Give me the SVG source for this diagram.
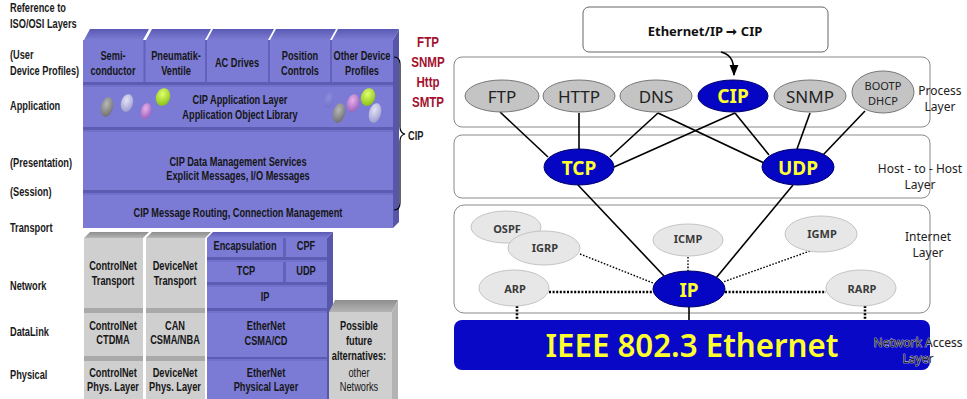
<svg xmlns="http://www.w3.org/2000/svg" width="967" height="399" viewBox="0 0 967 399">
<defs>
<style>
.osi{font-family:"Liberation Sans",Arial,sans-serif;font-weight:bold;font-size:12px;fill:#1a1a1a}
.n{font-family:"Liberation Sans",Arial,sans-serif;font-weight:bold;font-size:12px;fill:#161616;text-anchor:middle}
.nr{font-weight:normal}
.proto{font-family:"Liberation Sans",Arial,sans-serif;font-weight:bold;font-size:15px;fill:#a3112f;text-anchor:middle}
.pf{fill:#7b7bd5}
.pband{fill:#5c5cb2}
.plite{fill:#7171cc}
.pside{fill:#5757aa}
.gf{fill:#cfcfcf}
.gband{fill:#a9a9a9}
.layer{fill:#fff;stroke:#8a8a8a;stroke-width:1}
.pe{fill:#c4c4c4;stroke:#777;stroke-width:1}
.be{fill:#0505c4;stroke:#00006a;stroke-width:1}
.ge{fill:#e7e7e7;stroke:#c4c4c4;stroke-width:1}
.t{font-family:"Noto Sans","Open Sans",sans-serif;text-anchor:middle;fill:#222}
.pt{font-size:17px}
.yt{font-size:19px;font-weight:bold;fill:#ffff30}
.st{font-size:11px;font-weight:bold;fill:#3a3a3a}
.ll{font-size:12px;fill:#222}
.solid{stroke:#000;stroke-width:1.6;fill:none}
.dot{stroke:#000;stroke-width:1.4;stroke-dasharray:1.6 1.6;fill:none}
.dotb{stroke:#000;stroke-width:2.6;stroke-dasharray:2 1.6;fill:none}
</style>
<linearGradient id="topFace" x1="0" y1="0" x2="0" y2="1">
<stop offset="0" stop-color="#5a5ab4"/>
<stop offset="1" stop-color="#7c7cd4"/>
</linearGradient>
<linearGradient id="grayTop" x1="0" y1="0" x2="0" y2="1">
<stop offset="0" stop-color="#8e8e8e"/>
<stop offset="1" stop-color="#b4b4b4"/>
</linearGradient>
<radialGradient id="bGray" cx="0.4" cy="0.35" r="0.7"><stop offset="0" stop-color="#b8b8b8"/><stop offset="1" stop-color="#6e6e6e"/></radialGradient>
<radialGradient id="bLav" cx="0.4" cy="0.35" r="0.7"><stop offset="0" stop-color="#e2e2f6"/><stop offset="1" stop-color="#9c9cd0"/></radialGradient>
<radialGradient id="bPink" cx="0.4" cy="0.35" r="0.7"><stop offset="0" stop-color="#e8b0ec"/><stop offset="1" stop-color="#a060b8"/></radialGradient>
<radialGradient id="bGreen" cx="0.4" cy="0.35" r="0.7"><stop offset="0" stop-color="#e0ff70"/><stop offset="1" stop-color="#88c010"/></radialGradient>
<radialGradient id="bBlue" cx="0.4" cy="0.35" r="0.7"><stop offset="0" stop-color="#9a9ae0"/><stop offset="1" stop-color="#6c6cc8"/></radialGradient>
<marker id="ah" viewBox="0 0 10 10" refX="9" refY="5" markerWidth="7" markerHeight="7" orient="auto">
<path d="M0,1 L10,5 L0,9 z" fill="#000"/>
</marker>
</defs>

<rect width="967" height="399" fill="#fff"/>

<!-- OSI reference labels (condensed by a horizontal scale) -->
<g id="osi-labels">
<text class="osi" transform="translate(10 12) scale(.77 1)">Reference to</text>
<text class="osi" transform="translate(10 28) scale(.77 1)">ISO/OSI Layers</text>
<text class="osi" transform="translate(10 59) scale(.77 1)">(User</text>
<text class="osi" transform="translate(10 75) scale(.77 1)">Device Profiles)</text>
<text class="osi" transform="translate(10 110) scale(.77 1)">Application</text>
<text class="osi" transform="translate(10 167) scale(.77 1)">(Presentation)</text>
<text class="osi" transform="translate(10 196) scale(.77 1)">(Session)</text>
<text class="osi" transform="translate(10 232) scale(.77 1)">Transport</text>
<text class="osi" transform="translate(10 290) scale(.77 1)">Network</text>
<text class="osi" transform="translate(10 336) scale(.77 1)">DataLink</text>
<text class="osi" transform="translate(10 379) scale(.77 1)">Physical</text>
</g>

<!-- CIP upper stack -->
<g id="device-profiles">
<polygon fill="url(#topFace)" points="84,40 90,29 149,29 143,40"/>
<polygon fill="url(#topFace)" points="146,40 152,29 211,29 205,40"/>
<polygon fill="url(#topFace)" points="207,40 213,29 274,29 268,40"/>
<polygon fill="url(#topFace)" points="270,40 276,29 336,29 330,40"/>
<polygon fill="url(#topFace)" points="332,40 338,29 399,29 393,40"/>
<polygon class="pside" points="393,40 399,29 399,222 393,228"/>
<rect class="pf" x="83" y="40" width="310" height="42"/>
<g stroke="#6262bd" stroke-width="2">
<line x1="144.5" y1="40" x2="144.5" y2="82"/>
<line x1="206" y1="40" x2="206" y2="82"/>
<line x1="269" y1="40" x2="269" y2="82"/>
<line x1="331" y1="40" x2="331" y2="82"/>
</g>
<text class="n" transform="translate(113 60) scale(.77 1)">Semi-</text>
<text class="n" transform="translate(113 75) scale(.77 1)">conductor</text>
<text class="n" transform="translate(176 60) scale(.77 1)">Pneumatik-</text>
<text class="n" transform="translate(176 75) scale(.77 1)">Ventile</text>
<text class="n" transform="translate(237 67) scale(.77 1)">AC Drives</text>
<text class="n" transform="translate(300 60) scale(.77 1)">Position</text>
<text class="n" transform="translate(300 75) scale(.77 1)">Controls</text>
<text class="n" transform="translate(362 60) scale(.77 1)">Other Device</text>
<text class="n" transform="translate(362 75) scale(.77 1)">Profiles</text>
</g>

<g id="app-layer">
<rect class="pband" x="83" y="82" width="310" height="3"/>
<rect class="plite" x="83" y="85" width="310" height="2"/>
<rect class="pf" x="83" y="87" width="310" height="40"/>
<ellipse cx="107" cy="107" rx="6" ry="10" fill="url(#bGray)" transform="rotate(15 107 107)"/>
<ellipse cx="127" cy="103" rx="6" ry="9" fill="url(#bLav)" transform="rotate(15 127 103)"/>
<ellipse cx="146" cy="111" rx="5" ry="8" fill="url(#bPink)" transform="rotate(15 146 111)"/>
<ellipse cx="163" cy="97" rx="7" ry="9" fill="url(#bGreen)" transform="rotate(20 163 97)"/>
<ellipse cx="329" cy="100" rx="5" ry="8" fill="url(#bBlue)" opacity="0.6" transform="rotate(15 329 100)"/>
<ellipse cx="353" cy="103" rx="6" ry="9" fill="url(#bPink)" transform="rotate(15 353 103)"/>
<ellipse cx="339" cy="113" rx="6" ry="10" fill="url(#bGray)" transform="rotate(15 339 113)"/>
<ellipse cx="368" cy="97" rx="7" ry="9" fill="url(#bGreen)" transform="rotate(20 368 97)"/>
<ellipse cx="375" cy="113" rx="6" ry="10" fill="url(#bLav)" transform="rotate(15 375 113)"/>
<text class="n" transform="translate(240 104) scale(.77 1)">CIP Application Layer</text>
<text class="n" transform="translate(240 119) scale(.77 1)">Application Object Library</text>
</g>

<g id="data-management">
<rect class="pband" x="83" y="127" width="310" height="3"/>
<rect class="plite" x="83" y="130" width="310" height="2"/>
<rect class="pf" x="83" y="132" width="310" height="58"/>
<text class="n" transform="translate(238 166) scale(.77 1)">CIP Data Management Services</text>
<text class="n" transform="translate(238 180) scale(.77 1)">Explicit Messages, I/O Messages</text>
</g>

<g id="message-routing">
<rect class="pband" x="83" y="190" width="310" height="3"/>
<rect class="plite" x="83" y="193" width="310" height="2"/>
<rect class="pf" x="83" y="195" width="310" height="33"/>
<text class="n" transform="translate(238 217) scale(.77 1)">CIP Message Routing, Connection Management</text>
</g>

<!-- network-specific columns -->
<g id="controlnet-column">
<polygon fill="url(#grayTop)" points="84,238 90,232 149,232 143,238"/>
<rect class="gf" x="84" y="238" width="59" height="70"/>
<rect class="gband" x="84" y="308" width="59" height="5"/>
<rect class="gf" x="84" y="313" width="59" height="43"/>
<rect class="gband" x="84" y="356" width="59" height="5"/>
<rect class="gf" x="84" y="361" width="59" height="38"/>
<text class="n" transform="translate(113 270) scale(.77 1)">ControlNet</text>
<text class="n" transform="translate(113 285) scale(.77 1)">Transport</text>
<text class="n" transform="translate(113 330) scale(.77 1)">ControlNet</text>
<text class="n" transform="translate(113 344) scale(.77 1)">CTDMA</text>
<text class="n" transform="translate(113 377) scale(.77 1)">ControlNet</text>
<text class="n" transform="translate(113 391) scale(.77 1)">Phys. Layer</text>
</g>

<g id="devicenet-column">
<polygon fill="url(#grayTop)" points="146,238 152,232 211,232 205,238"/>
<rect class="gf" x="146" y="238" width="59" height="70"/>
<rect class="gband" x="146" y="308" width="59" height="5"/>
<rect class="gf" x="146" y="313" width="59" height="43"/>
<rect class="gband" x="146" y="356" width="59" height="5"/>
<rect class="gf" x="146" y="361" width="59" height="38"/>
<text class="n" transform="translate(175 270) scale(.77 1)">DeviceNet</text>
<text class="n" transform="translate(175 285) scale(.77 1)">Transport</text>
<text class="n" transform="translate(175 330) scale(.77 1)">CAN</text>
<text class="n" transform="translate(175 344) scale(.77 1)">CSMA/NBA</text>
<text class="n" transform="translate(175 377) scale(.77 1)">DeviceNet</text>
<text class="n" transform="translate(175 391) scale(.77 1)">Phys. Layer</text>
</g>

<g id="ethernet-column">
<polygon fill="url(#topFace)" points="207,238 213,232 333,232 327,238"/>
<polygon class="pside" points="327,238 333,232 333,399 327,399"/>
<rect class="pf" x="207" y="238" width="76" height="19"/>
<rect class="pf" x="286" y="238" width="41" height="19"/>
<rect fill="#6262bd" x="283" y="238" width="3" height="44"/>
<rect class="pband" x="207" y="257" width="120" height="3"/>
<rect class="plite" x="207" y="260" width="120" height="2"/>
<rect class="pf" x="207" y="262" width="76" height="20"/>
<rect class="pf" x="286" y="262" width="41" height="20"/>
<rect class="pband" x="207" y="282" width="120" height="3"/>
<rect class="plite" x="207" y="285" width="120" height="2"/>
<rect class="pf" x="207" y="287" width="120" height="21"/>
<rect class="pband" x="207" y="308" width="120" height="3"/>
<rect class="plite" x="207" y="311" width="120" height="2"/>
<rect class="pf" x="207" y="313" width="120" height="44"/>
<rect class="pband" x="207" y="357" width="120" height="2"/>
<rect class="plite" x="207" y="359" width="120" height="2"/>
<rect class="pf" x="207" y="361" width="120" height="38"/>
<text class="n" transform="translate(245 250) scale(.77 1)">Encapsulation</text>
<text class="n" transform="translate(306 250) scale(.77 1)">CPF</text>
<text class="n" transform="translate(246 275) scale(.77 1)">TCP</text>
<text class="n" transform="translate(306 275) scale(.77 1)">UDP</text>
<text class="n" transform="translate(265 301) scale(.77 1)">IP</text>
<text class="n" transform="translate(266 330) scale(.77 1)">EtherNet</text>
<text class="n" transform="translate(266 345) scale(.77 1)">CSMA/CD</text>
<text class="n" transform="translate(266 377) scale(.77 1)">EtherNet</text>
<text class="n" transform="translate(266 391) scale(.77 1)">Physical Layer</text>
</g>

<g id="future-networks">
<polygon fill="url(#grayTop)" points="329,312 335,300 398,300 392,312"/>
<polygon fill="#b3b3b3" points="392,312 398,300 398,399 392,399"/>
<rect class="gf" x="329" y="312" width="63" height="87"/>
<text class="n" transform="translate(359 330) scale(.77 1)">Possible</text>
<text class="n" transform="translate(359 345) scale(.77 1)">future</text>
<text class="n" transform="translate(359 360) scale(.77 1)">alternatives:</text>
<text class="n nr" transform="translate(359 377) scale(.77 1)">other</text>
<text class="n nr" transform="translate(359 391) scale(.77 1)">Networks</text>
</g>

<g id="cip-brace">
<path d="M394,57 Q400,57 400,64 L400,127 Q400,133 405,134 Q400,135 400,141 L400,203 Q400,210 394,210" fill="none" stroke="#000" stroke-width="1.2"/>
<text class="osi" transform="translate(408 140) scale(.77 1)">CIP</text>
</g>

<g id="ip-protocols">
<text class="proto" transform="translate(428 47) scale(.77 1)">FTP</text>
<text class="proto" transform="translate(428 67) scale(.77 1)">SNMP</text>
<text class="proto" transform="translate(428 87) scale(.77 1)">Http</text>
<text class="proto" transform="translate(428 107) scale(.77 1)">SMTP</text>
</g>

<!-- TCP/IP layer model -->
<g id="ethip-box">
<rect x="583" y="7" width="245" height="45" rx="6" fill="#fff" stroke="#666" stroke-width="1"/>
<text x="705" y="36" font-family="Noto Sans,Open Sans,sans-serif" font-weight="bold" font-size="13" fill="#111" text-anchor="middle">Ethernet/IP ➞ CIP</text>
</g>

<g id="layers">
<rect class="layer" x="454" y="57" width="476" height="70" rx="8"/>
<rect class="layer" x="454" y="135" width="476" height="63" rx="8"/>
<rect class="layer" x="454" y="205" width="476" height="108" rx="10"/>
</g>

<g id="net-access">
<rect x="454" y="320" width="476" height="50" rx="8" fill="#0808c6"/>
<text x="692" y="357" font-family="Noto Sans,Open Sans,sans-serif" font-weight="600" font-size="32" fill="#ffff30" text-anchor="middle" textLength="293" lengthAdjust="spacingAndGlyphs">IEEE 802.3 Ethernet</text>
</g>

<g id="connectors">
<line class="solid" x1="500" y1="112" x2="548" y2="157"/>
<line class="solid" x1="579" y1="113" x2="579" y2="149"/>
<line class="solid" x1="658" y1="113" x2="610" y2="157"/>
<line class="solid" x1="658" y1="113" x2="764" y2="163"/>
<line class="solid" x1="614" y1="167" x2="735" y2="113"/>
<line class="solid" x1="735" y1="113" x2="769" y2="155"/>
<line class="solid" x1="810" y1="113" x2="797" y2="149"/>
<line class="solid" x1="865" y1="111" x2="823" y2="155"/>
<line class="solid" x1="578" y1="185" x2="664" y2="276"/>
<line class="solid" x1="793" y1="185" x2="716" y2="278"/>
<line class="solid" x1="689" y1="307" x2="689" y2="320"/>
<line class="dot" x1="580" y1="254" x2="653" y2="283"/>
<line class="dot" x1="688" y1="257" x2="688" y2="271"/>
<line class="dot" x1="810" y1="251" x2="723" y2="282"/>
<line class="dotb" x1="549" y1="292" x2="653" y2="292"/>
<line class="dotb" x1="725" y1="292" x2="826" y2="292"/>
<line class="dotb" x1="517" y1="306" x2="517" y2="320"/>
<line class="dotb" x1="865" y1="306" x2="865" y2="320"/>
<path class="solid" d="M721,52 C733,55 734,64 734,75" marker-end="url(#ah)"/>
</g>

<g id="node-ftp"><ellipse class="pe" cx="502" cy="96" rx="37" ry="16"/><text class="t pt" x="502" y="103">FTP</text></g>
<g id="node-http"><ellipse class="pe" cx="579" cy="96" rx="36" ry="16"/><text class="t pt" x="579" y="103">HTTP</text></g>
<g id="node-dns"><ellipse class="pe" cx="656" cy="96" rx="36" ry="16"/><text class="t pt" x="656" y="103">DNS</text></g>
<g id="node-cip"><ellipse class="be" cx="733" cy="96" rx="35" ry="16"/><text class="t yt" x="733" y="103">CIP</text></g>
<g id="node-snmp"><ellipse class="pe" cx="810" cy="96" rx="36" ry="16"/><text class="t pt" x="810" y="103">SNMP</text></g>
<g id="node-bootp"><ellipse class="pe" cx="883" cy="92" rx="31" ry="21"/><text class="t" font-size="11" x="883" y="90">BOOTP</text><text class="t" font-size="11" x="883" y="105">DHCP</text></g>
<g id="node-tcp"><ellipse class="be" cx="579" cy="167" rx="35" ry="18"/><text class="t yt" x="579" y="175">TCP</text></g>
<g id="node-udp"><ellipse class="be" cx="798" cy="167" rx="36" ry="18"/><text class="t yt" x="798" y="175">UDP</text></g>
<g id="node-ospf"><ellipse class="ge" cx="506" cy="227" rx="35" ry="16"/><text class="t st" x="507" y="233">OSPF</text></g>
<g id="node-igrp"><ellipse class="ge" cx="544" cy="248" rx="36" ry="17"/><text class="t st" x="545" y="252">IGRP</text></g>
<g id="node-icmp"><ellipse class="ge" cx="688" cy="240" rx="35" ry="16"/><text class="t st" x="688" y="243">ICMP</text></g>
<g id="node-igmp"><ellipse class="ge" cx="821" cy="234" rx="36" ry="18"/><text class="t st" x="822" y="238">IGMP</text></g>
<g id="node-arp"><ellipse class="ge" cx="514" cy="288" rx="35" ry="18"/><text class="t st" x="515" y="293">ARP</text></g>
<g id="node-rarp"><ellipse class="ge" cx="861" cy="288" rx="35" ry="18"/><text class="t st" x="862" y="293">RARP</text></g>
<g id="node-ip"><ellipse class="be" cx="689" cy="289" rx="36" ry="18"/><text class="t yt" x="689" y="297">IP</text></g>

<g id="layer-labels">
<text class="t ll" x="940" y="95">Process</text>
<text class="t ll" x="940" y="111">Layer</text>
<text class="t ll" x="920" y="173">Host - to - Host</text>
<text class="t ll" x="920" y="189">Layer</text>
<text class="t ll" x="928" y="241">Internet</text>
<text class="t ll" x="928" y="257">Layer</text>
<text class="t ll" x="918" y="347" fill="#444" stroke="#e8e8e8" stroke-width="0.7" paint-order="stroke">Network Access</text>
<text class="t ll" x="918" y="363" fill="#444" stroke="#e8e8e8" stroke-width="0.7" paint-order="stroke">Layer</text>
</g>
</svg>
